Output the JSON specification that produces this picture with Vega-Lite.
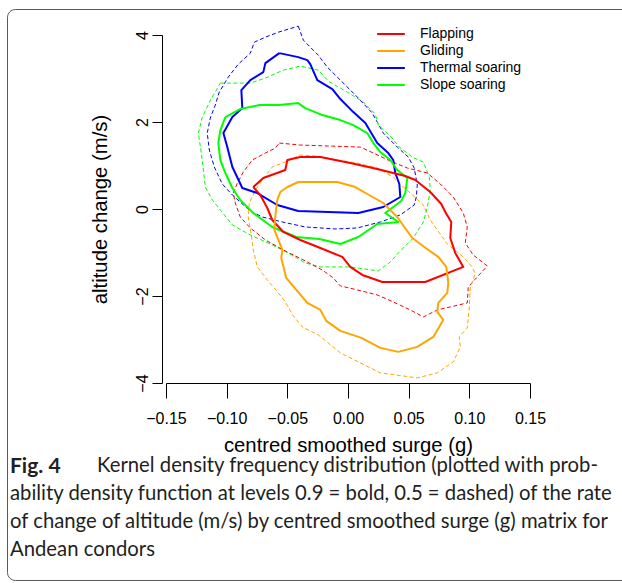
{
  "$schema": "https://vega.github.io/schema/vega-lite/v6.json",
  "width": 364,
  "height": 348,
  "autosize": "none",
  "padding": {"left": 166, "top": 35, "right": 92, "bottom": 200},
  "background": "white",
  "title": {
    "text": "Fig. 4",
    "subtitle": [
      "\u200B\u2003\u2003\u2003\u2003\u2003\u2005\u2009\u2006Kernel density frequency distribution (plotted with prob-",
      "ability density function at levels 0.9 = bold, 0.5 = dashed) of the rate",
      "of change of altitude (m/s) by centred smoothed surge (g) matrix for",
      "Andean condors"
    ],
    "orient": "bottom",
    "anchor": "start",
    "frame": "bounds",
    "offset": -125,
    "dx": 3,
    "font": "Lato",
    "fontSize": 21,
    "fontWeight": "bold",
    "color": "#231f20",
    "subtitleFont": "Lato",
    "subtitleFontSize": 20.3,
    "subtitleFontWeight": "normal",
    "subtitleColor": "#231f20",
    "subtitleLineHeight": 28,
    "subtitlePadding": -21
  },
  "data": {
    "values": [
      {"b":"Thermal soaring","level":0.9,"k":0,"x":-0.0566,"y":3.583},
      {"b":"Thermal soaring","level":0.9,"k":1,"x":-0.0410,"y":3.491},
      {"b":"Thermal soaring","level":0.9,"k":2,"x":-0.0335,"y":3.422},
      {"b":"Thermal soaring","level":0.9,"k":3,"x":-0.0311,"y":3.330},
      {"b":"Thermal soaring","level":0.9,"k":4,"x":-0.0253,"y":2.963},
      {"b":"Thermal soaring","level":0.9,"k":5,"x":-0.0129,"y":2.756},
      {"b":"Thermal soaring","level":0.9,"k":6,"x":-0.0063,"y":2.527},
      {"b":"Thermal soaring","level":0.9,"k":7,"x":0.0044,"y":2.228},
      {"b":"Thermal soaring","level":0.9,"k":8,"x":0.0143,"y":1.975},
      {"b":"Thermal soaring","level":0.9,"k":9,"x":0.0241,"y":1.516},
      {"b":"Thermal soaring","level":0.9,"k":10,"x":0.0332,"y":1.286},
      {"b":"Thermal soaring","level":0.9,"k":11,"x":0.0373,"y":1.126},
      {"b":"Thermal soaring","level":0.9,"k":12,"x":0.0390,"y":0.827},
      {"b":"Thermal soaring","level":0.9,"k":13,"x":0.0423,"y":0.574},
      {"b":"Thermal soaring","level":0.9,"k":14,"x":0.0431,"y":0.276},
      {"b":"Thermal soaring","level":0.9,"k":15,"x":0.0291,"y":0.046},
      {"b":"Thermal soaring","level":0.9,"k":16,"x":0.0085,"y":-0.092},
      {"b":"Thermal soaring","level":0.9,"k":17,"x":-0.0410,"y":-0.046},
      {"b":"Thermal soaring","level":0.9,"k":18,"x":-0.0583,"y":0.092},
      {"b":"Thermal soaring","level":0.9,"k":19,"x":-0.0747,"y":0.367},
      {"b":"Thermal soaring","level":0.9,"k":20,"x":-0.0871,"y":0.482},
      {"b":"Thermal soaring","level":0.9,"k":21,"x":-0.0953,"y":0.965},
      {"b":"Thermal soaring","level":0.9,"k":22,"x":-0.0995,"y":1.424},
      {"b":"Thermal soaring","level":0.9,"k":23,"x":-0.1027,"y":1.746},
      {"b":"Thermal soaring","level":0.9,"k":24,"x":-0.0953,"y":2.113},
      {"b":"Thermal soaring","level":0.9,"k":25,"x":-0.0871,"y":2.320},
      {"b":"Thermal soaring","level":0.9,"k":26,"x":-0.0879,"y":2.733},
      {"b":"Thermal soaring","level":0.9,"k":27,"x":-0.0805,"y":2.963},
      {"b":"Thermal soaring","level":0.9,"k":28,"x":-0.0698,"y":3.147},
      {"b":"Thermal soaring","level":0.9,"k":29,"x":-0.0681,"y":3.353},
      {"b":"Thermal soaring","level":0.9,"k":30,"x":-0.0566,"y":3.583},

      {"b":"Thermal soaring","level":0.5,"k":0,"x":-0.0410,"y":4.203},
      {"b":"Thermal soaring","level":0.5,"k":1,"x":-0.0368,"y":3.882},
      {"b":"Thermal soaring","level":0.5,"k":2,"x":-0.0311,"y":3.721},
      {"b":"Thermal soaring","level":0.5,"k":3,"x":-0.0245,"y":3.537},
      {"b":"Thermal soaring","level":0.5,"k":4,"x":-0.0171,"y":3.262},
      {"b":"Thermal soaring","level":0.5,"k":5,"x":-0.0063,"y":2.963},
      {"b":"Thermal soaring","level":0.5,"k":6,"x":0.0077,"y":2.573},
      {"b":"Thermal soaring","level":0.5,"k":7,"x":0.0200,"y":2.205},
      {"b":"Thermal soaring","level":0.5,"k":8,"x":0.0291,"y":1.746},
      {"b":"Thermal soaring","level":0.5,"k":9,"x":0.0406,"y":1.424},
      {"b":"Thermal soaring","level":0.5,"k":10,"x":0.0497,"y":1.194},
      {"b":"Thermal soaring","level":0.5,"k":11,"x":0.0546,"y":0.942},
      {"b":"Thermal soaring","level":0.5,"k":12,"x":0.0571,"y":0.551},
      {"b":"Thermal soaring","level":0.5,"k":13,"x":0.0563,"y":0.276},
      {"b":"Thermal soaring","level":0.5,"k":14,"x":0.0546,"y":0.092},
      {"b":"Thermal soaring","level":0.5,"k":15,"x":0.0431,"y":-0.138},
      {"b":"Thermal soaring","level":0.5,"k":16,"x":0.0266,"y":-0.299},
      {"b":"Thermal soaring","level":0.5,"k":17,"x":0.0077,"y":-0.436},
      {"b":"Thermal soaring","level":0.5,"k":18,"x":-0.0105,"y":-0.459},
      {"b":"Thermal soaring","level":0.5,"k":19,"x":-0.0352,"y":-0.413},
      {"b":"Thermal soaring","level":0.5,"k":20,"x":-0.0541,"y":-0.299},
      {"b":"Thermal soaring","level":0.5,"k":21,"x":-0.0706,"y":-0.184},
      {"b":"Thermal soaring","level":0.5,"k":22,"x":-0.0805,"y":-0.046},
      {"b":"Thermal soaring","level":0.5,"k":23,"x":-0.0953,"y":0.322},
      {"b":"Thermal soaring","level":0.5,"k":24,"x":-0.1036,"y":0.574},
      {"b":"Thermal soaring","level":0.5,"k":25,"x":-0.1102,"y":0.965},
      {"b":"Thermal soaring","level":0.5,"k":26,"x":-0.1143,"y":1.355},
      {"b":"Thermal soaring","level":0.5,"k":27,"x":-0.1160,"y":1.746},
      {"b":"Thermal soaring","level":0.5,"k":28,"x":-0.1135,"y":2.090},
      {"b":"Thermal soaring","level":0.5,"k":29,"x":-0.1094,"y":2.389},
      {"b":"Thermal soaring","level":0.5,"k":30,"x":-0.1061,"y":2.687},
      {"b":"Thermal soaring","level":0.5,"k":31,"x":-0.0987,"y":3.032},
      {"b":"Thermal soaring","level":0.5,"k":32,"x":-0.0904,"y":3.330},
      {"b":"Thermal soaring","level":0.5,"k":33,"x":-0.0805,"y":3.583},
      {"b":"Thermal soaring","level":0.5,"k":34,"x":-0.0772,"y":3.836},
      {"b":"Thermal soaring","level":0.5,"k":35,"x":-0.0681,"y":3.950},
      {"b":"Thermal soaring","level":0.5,"k":36,"x":-0.0574,"y":4.065},
      {"b":"Thermal soaring","level":0.5,"k":37,"x":-0.0410,"y":4.203},

      {"b":"Slope soaring","level":0.9,"k":0,"x":-0.1011,"y":2.113},
      {"b":"Slope soaring","level":0.9,"k":1,"x":-0.0888,"y":2.297},
      {"b":"Slope soaring","level":0.9,"k":2,"x":-0.0731,"y":2.389},
      {"b":"Slope soaring","level":0.9,"k":3,"x":-0.0566,"y":2.389},
      {"b":"Slope soaring","level":0.9,"k":4,"x":-0.0410,"y":2.435},
      {"b":"Slope soaring","level":0.9,"k":5,"x":-0.0352,"y":2.320},
      {"b":"Slope soaring","level":0.9,"k":6,"x":-0.0212,"y":2.159},
      {"b":"Slope soaring","level":0.9,"k":7,"x":-0.0063,"y":2.044},
      {"b":"Slope soaring","level":0.9,"k":8,"x":0.0044,"y":1.929},
      {"b":"Slope soaring","level":0.9,"k":9,"x":0.0159,"y":1.746},
      {"b":"Slope soaring","level":0.9,"k":10,"x":0.0209,"y":1.516},
      {"b":"Slope soaring","level":0.9,"k":11,"x":0.0266,"y":1.309},
      {"b":"Slope soaring","level":0.9,"k":12,"x":0.0349,"y":1.126},
      {"b":"Slope soaring","level":0.9,"k":13,"x":0.0406,"y":0.896},
      {"b":"Slope soaring","level":0.9,"k":14,"x":0.0489,"y":0.712},
      {"b":"Slope soaring","level":0.9,"k":15,"x":0.0472,"y":0.367},
      {"b":"Slope soaring","level":0.9,"k":16,"x":0.0439,"y":0.184},
      {"b":"Slope soaring","level":0.9,"k":17,"x":0.0307,"y":-0.092},
      {"b":"Slope soaring","level":0.9,"k":18,"x":0.0415,"y":-0.299},
      {"b":"Slope soaring","level":0.9,"k":19,"x":0.0241,"y":-0.345},
      {"b":"Slope soaring","level":0.9,"k":20,"x":0.0085,"y":-0.643},
      {"b":"Slope soaring","level":0.9,"k":21,"x":-0.0063,"y":-0.804},
      {"b":"Slope soaring","level":0.9,"k":22,"x":-0.0236,"y":-0.689},
      {"b":"Slope soaring","level":0.9,"k":23,"x":-0.0426,"y":-0.643},
      {"b":"Slope soaring","level":0.9,"k":24,"x":-0.0624,"y":-0.413},
      {"b":"Slope soaring","level":0.9,"k":25,"x":-0.0781,"y":-0.092},
      {"b":"Slope soaring","level":0.9,"k":26,"x":-0.0888,"y":0.207},
      {"b":"Slope soaring","level":0.9,"k":27,"x":-0.0953,"y":0.482},
      {"b":"Slope soaring","level":0.9,"k":28,"x":-0.1011,"y":0.827},
      {"b":"Slope soaring","level":0.9,"k":29,"x":-0.1052,"y":1.126},
      {"b":"Slope soaring","level":0.9,"k":30,"x":-0.1069,"y":1.516},
      {"b":"Slope soaring","level":0.9,"k":31,"x":-0.1052,"y":1.815},
      {"b":"Slope soaring","level":0.9,"k":32,"x":-0.1011,"y":2.113},

      {"b":"Slope soaring","level":0.5,"k":0,"x":-0.1052,"y":2.894},
      {"b":"Slope soaring","level":0.5,"k":1,"x":-0.0805,"y":2.894},
      {"b":"Slope soaring","level":0.5,"k":2,"x":-0.0681,"y":3.009},
      {"b":"Slope soaring","level":0.5,"k":3,"x":-0.0533,"y":3.193},
      {"b":"Slope soaring","level":0.5,"k":4,"x":-0.0393,"y":3.284},
      {"b":"Slope soaring","level":0.5,"k":5,"x":-0.0245,"y":3.193},
      {"b":"Slope soaring","level":0.5,"k":6,"x":-0.0162,"y":2.940},
      {"b":"Slope soaring","level":0.5,"k":7,"x":-0.0006,"y":2.687},
      {"b":"Slope soaring","level":0.5,"k":8,"x":0.0126,"y":2.458},
      {"b":"Slope soaring","level":0.5,"k":9,"x":0.0225,"y":2.182},
      {"b":"Slope soaring","level":0.5,"k":10,"x":0.0250,"y":1.929},
      {"b":"Slope soaring","level":0.5,"k":11,"x":0.0349,"y":1.677},
      {"b":"Slope soaring","level":0.5,"k":12,"x":0.0423,"y":1.424},
      {"b":"Slope soaring","level":0.5,"k":13,"x":0.0530,"y":1.194},
      {"b":"Slope soaring","level":0.5,"k":14,"x":0.0621,"y":1.079},
      {"b":"Slope soaring","level":0.5,"k":15,"x":0.0670,"y":0.735},
      {"b":"Slope soaring","level":0.5,"k":16,"x":0.0678,"y":0.436},
      {"b":"Slope soaring","level":0.5,"k":17,"x":0.0654,"y":0.046},
      {"b":"Slope soaring","level":0.5,"k":18,"x":0.0621,"y":-0.299},
      {"b":"Slope soaring","level":0.5,"k":19,"x":0.0538,"y":-0.666},
      {"b":"Slope soaring","level":0.5,"k":20,"x":0.0415,"y":-1.011},
      {"b":"Slope soaring","level":0.5,"k":21,"x":0.0349,"y":-1.217},
      {"b":"Slope soaring","level":0.5,"k":22,"x":0.0250,"y":-1.424},
      {"b":"Slope soaring","level":0.5,"k":23,"x":0.0019,"y":-1.332},
      {"b":"Slope soaring","level":0.5,"k":24,"x":-0.0228,"y":-1.332},
      {"b":"Slope soaring","level":0.5,"k":25,"x":-0.0352,"y":-1.240},
      {"b":"Slope soaring","level":0.5,"k":26,"x":-0.0492,"y":-1.011},
      {"b":"Slope soaring","level":0.5,"k":27,"x":-0.0640,"y":-0.804},
      {"b":"Slope soaring","level":0.5,"k":28,"x":-0.0805,"y":-0.597},
      {"b":"Slope soaring","level":0.5,"k":29,"x":-0.0953,"y":-0.367},
      {"b":"Slope soaring","level":0.5,"k":30,"x":-0.1052,"y":-0.023},
      {"b":"Slope soaring","level":0.5,"k":31,"x":-0.1118,"y":0.207},
      {"b":"Slope soaring","level":0.5,"k":32,"x":-0.1176,"y":0.505},
      {"b":"Slope soaring","level":0.5,"k":33,"x":-0.1192,"y":0.896},
      {"b":"Slope soaring","level":0.5,"k":34,"x":-0.1209,"y":1.286},
      {"b":"Slope soaring","level":0.5,"k":35,"x":-0.1233,"y":1.746},
      {"b":"Slope soaring","level":0.5,"k":36,"x":-0.1201,"y":2.113},
      {"b":"Slope soaring","level":0.5,"k":37,"x":-0.1126,"y":2.549},
      {"b":"Slope soaring","level":0.5,"k":38,"x":-0.1094,"y":2.687},
      {"b":"Slope soaring","level":0.5,"k":39,"x":-0.1052,"y":2.894},

      {"b":"Flapping","level":0.9,"k":0,"x":-0.0781,"y":0.505},
      {"b":"Flapping","level":0.9,"k":1,"x":-0.0698,"y":0.712},
      {"b":"Flapping","level":0.9,"k":2,"x":-0.0517,"y":0.896},
      {"b":"Flapping","level":0.9,"k":3,"x":-0.0500,"y":1.126},
      {"b":"Flapping","level":0.9,"k":4,"x":-0.0393,"y":1.194},
      {"b":"Flapping","level":0.9,"k":5,"x":-0.0228,"y":1.194},
      {"b":"Flapping","level":0.9,"k":6,"x":0.0019,"y":1.057},
      {"b":"Flapping","level":0.9,"k":7,"x":0.0241,"y":0.919},
      {"b":"Flapping","level":0.9,"k":8,"x":0.0472,"y":0.758},
      {"b":"Flapping","level":0.9,"k":9,"x":0.0555,"y":0.666},
      {"b":"Flapping","level":0.9,"k":10,"x":0.0678,"y":0.390},
      {"b":"Flapping","level":0.9,"k":11,"x":0.0769,"y":0.115},
      {"b":"Flapping","level":0.9,"k":12,"x":0.0802,"y":-0.069},
      {"b":"Flapping","level":0.9,"k":13,"x":0.0851,"y":-0.299},
      {"b":"Flapping","level":0.9,"k":14,"x":0.0843,"y":-0.666},
      {"b":"Flapping","level":0.9,"k":15,"x":0.0884,"y":-1.011},
      {"b":"Flapping","level":0.9,"k":16,"x":0.0950,"y":-1.332},
      {"b":"Flapping","level":0.9,"k":17,"x":0.0637,"y":-1.677},
      {"b":"Flapping","level":0.9,"k":18,"x":0.0283,"y":-1.677},
      {"b":"Flapping","level":0.9,"k":19,"x":0.0118,"y":-1.516},
      {"b":"Flapping","level":0.9,"k":20,"x":0.0019,"y":-1.332},
      {"b":"Flapping","level":0.9,"k":21,"x":-0.0047,"y":-1.102},
      {"b":"Flapping","level":0.9,"k":22,"x":-0.0228,"y":-0.896},
      {"b":"Flapping","level":0.9,"k":23,"x":-0.0393,"y":-0.712},
      {"b":"Flapping","level":0.9,"k":24,"x":-0.0533,"y":-0.528},
      {"b":"Flapping","level":0.9,"k":25,"x":-0.0624,"y":-0.253},
      {"b":"Flapping","level":0.9,"k":26,"x":-0.0665,"y":0.023},
      {"b":"Flapping","level":0.9,"k":27,"x":-0.0723,"y":0.322},
      {"b":"Flapping","level":0.9,"k":28,"x":-0.0781,"y":0.505},

      {"b":"Flapping","level":0.5,"k":0,"x":-0.0566,"y":1.516},
      {"b":"Flapping","level":0.5,"k":1,"x":-0.0393,"y":1.470},
      {"b":"Flapping","level":0.5,"k":2,"x":0.0101,"y":1.424},
      {"b":"Flapping","level":0.5,"k":3,"x":0.0209,"y":1.286},
      {"b":"Flapping","level":0.5,"k":4,"x":0.0349,"y":1.102},
      {"b":"Flapping","level":0.5,"k":5,"x":0.0489,"y":0.942},
      {"b":"Flapping","level":0.5,"k":6,"x":0.0654,"y":0.827},
      {"b":"Flapping","level":0.5,"k":7,"x":0.0761,"y":0.574},
      {"b":"Flapping","level":0.5,"k":8,"x":0.0868,"y":0.276},
      {"b":"Flapping","level":0.5,"k":9,"x":0.0950,"y":-0.092},
      {"b":"Flapping","level":0.5,"k":10,"x":0.0983,"y":-0.413},
      {"b":"Flapping","level":0.5,"k":11,"x":0.0967,"y":-0.781},
      {"b":"Flapping","level":0.5,"k":12,"x":0.1032,"y":-1.057},
      {"b":"Flapping","level":0.5,"k":13,"x":0.1148,"y":-1.309},
      {"b":"Flapping","level":0.5,"k":14,"x":0.1065,"y":-1.562},
      {"b":"Flapping","level":0.5,"k":15,"x":0.0991,"y":-1.792},
      {"b":"Flapping","level":0.5,"k":16,"x":0.0983,"y":-2.159},
      {"b":"Flapping","level":0.5,"k":17,"x":0.0843,"y":-2.251},
      {"b":"Flapping","level":0.5,"k":18,"x":0.0736,"y":-2.320},
      {"b":"Flapping","level":0.5,"k":19,"x":0.0621,"y":-2.481},
      {"b":"Flapping","level":0.5,"k":20,"x":0.0513,"y":-2.320},
      {"b":"Flapping","level":0.5,"k":21,"x":0.0373,"y":-2.136},
      {"b":"Flapping","level":0.5,"k":22,"x":0.0241,"y":-1.975},
      {"b":"Flapping","level":0.5,"k":23,"x":0.0077,"y":-1.860},
      {"b":"Flapping","level":0.5,"k":24,"x":-0.0063,"y":-1.768},
      {"b":"Flapping","level":0.5,"k":25,"x":-0.0121,"y":-1.585},
      {"b":"Flapping","level":0.5,"k":26,"x":-0.0212,"y":-1.401},
      {"b":"Flapping","level":0.5,"k":27,"x":-0.0368,"y":-1.171},
      {"b":"Flapping","level":0.5,"k":28,"x":-0.0533,"y":-0.942},
      {"b":"Flapping","level":0.5,"k":29,"x":-0.0681,"y":-0.712},
      {"b":"Flapping","level":0.5,"k":30,"x":-0.0805,"y":-0.436},
      {"b":"Flapping","level":0.5,"k":31,"x":-0.0888,"y":-0.184},
      {"b":"Flapping","level":0.5,"k":32,"x":-0.0929,"y":0.138},
      {"b":"Flapping","level":0.5,"k":33,"x":-0.0945,"y":0.367},
      {"b":"Flapping","level":0.5,"k":34,"x":-0.0912,"y":0.597},
      {"b":"Flapping","level":0.5,"k":35,"x":-0.0863,"y":0.850},
      {"b":"Flapping","level":0.5,"k":36,"x":-0.0789,"y":1.126},
      {"b":"Flapping","level":0.5,"k":37,"x":-0.0681,"y":1.286},
      {"b":"Flapping","level":0.5,"k":38,"x":-0.0599,"y":1.401},
      {"b":"Flapping","level":0.5,"k":39,"x":-0.0566,"y":1.516},

      {"b":"Gliding","level":0.9,"k":0,"x":-0.0410,"y":0.620},
      {"b":"Gliding","level":0.9,"k":1,"x":-0.0088,"y":0.620},
      {"b":"Gliding","level":0.9,"k":2,"x":0.0060,"y":0.505},
      {"b":"Gliding","level":0.9,"k":3,"x":0.0159,"y":0.345},
      {"b":"Gliding","level":0.9,"k":4,"x":0.0291,"y":0.138},
      {"b":"Gliding","level":0.9,"k":5,"x":0.0406,"y":-0.184},
      {"b":"Gliding","level":0.9,"k":6,"x":0.0464,"y":-0.413},
      {"b":"Gliding","level":0.9,"k":7,"x":0.0530,"y":-0.666},
      {"b":"Gliding","level":0.9,"k":8,"x":0.0629,"y":-0.873},
      {"b":"Gliding","level":0.9,"k":9,"x":0.0744,"y":-1.102},
      {"b":"Gliding","level":0.9,"k":10,"x":0.0810,"y":-1.332},
      {"b":"Gliding","level":0.9,"k":11,"x":0.0827,"y":-1.700},
      {"b":"Gliding","level":0.9,"k":12,"x":0.0818,"y":-1.929},
      {"b":"Gliding","level":0.9,"k":13,"x":0.0744,"y":-2.159},
      {"b":"Gliding","level":0.9,"k":14,"x":0.0736,"y":-2.366},
      {"b":"Gliding","level":0.9,"k":15,"x":0.0785,"y":-2.550},
      {"b":"Gliding","level":0.9,"k":16,"x":0.0703,"y":-2.940},
      {"b":"Gliding","level":0.9,"k":17,"x":0.0571,"y":-3.170},
      {"b":"Gliding","level":0.9,"k":18,"x":0.0415,"y":-3.284},
      {"b":"Gliding","level":0.9,"k":19,"x":0.0266,"y":-3.193},
      {"b":"Gliding","level":0.9,"k":20,"x":0.0110,"y":-2.963},
      {"b":"Gliding","level":0.9,"k":21,"x":-0.0063,"y":-2.802},
      {"b":"Gliding","level":0.9,"k":22,"x":-0.0179,"y":-2.572},
      {"b":"Gliding","level":0.9,"k":23,"x":-0.0228,"y":-2.320},
      {"b":"Gliding","level":0.9,"k":24,"x":-0.0335,"y":-2.159},
      {"b":"Gliding","level":0.9,"k":25,"x":-0.0426,"y":-1.860},
      {"b":"Gliding","level":0.9,"k":26,"x":-0.0509,"y":-1.585},
      {"b":"Gliding","level":0.9,"k":27,"x":-0.0550,"y":-1.125},
      {"b":"Gliding","level":0.9,"k":28,"x":-0.0541,"y":-0.942},
      {"b":"Gliding","level":0.9,"k":29,"x":-0.0574,"y":-0.712},
      {"b":"Gliding","level":0.9,"k":30,"x":-0.0607,"y":-0.482},
      {"b":"Gliding","level":0.9,"k":31,"x":-0.0599,"y":-0.161},
      {"b":"Gliding","level":0.9,"k":32,"x":-0.0583,"y":0.207},
      {"b":"Gliding","level":0.9,"k":33,"x":-0.0558,"y":0.390},
      {"b":"Gliding","level":0.9,"k":34,"x":-0.0500,"y":0.505},
      {"b":"Gliding","level":0.9,"k":35,"x":-0.0410,"y":0.620},

      {"b":"Gliding","level":0.5,"k":0,"x":-0.0500,"y":1.102},
      {"b":"Gliding","level":0.5,"k":1,"x":-0.0393,"y":1.240},
      {"b":"Gliding","level":0.5,"k":2,"x":-0.0253,"y":1.217},
      {"b":"Gliding","level":0.5,"k":3,"x":-0.0088,"y":1.125},
      {"b":"Gliding","level":0.5,"k":4,"x":0.0077,"y":1.057},
      {"b":"Gliding","level":0.5,"k":5,"x":0.0241,"y":0.942},
      {"b":"Gliding","level":0.5,"k":6,"x":0.0373,"y":0.735},
      {"b":"Gliding","level":0.5,"k":7,"x":0.0456,"y":0.505},
      {"b":"Gliding","level":0.5,"k":8,"x":0.0513,"y":0.367},
      {"b":"Gliding","level":0.5,"k":9,"x":0.0621,"y":0.092},
      {"b":"Gliding","level":0.5,"k":10,"x":0.0678,"y":-0.253},
      {"b":"Gliding","level":0.5,"k":11,"x":0.0736,"y":-0.482},
      {"b":"Gliding","level":0.5,"k":12,"x":0.0818,"y":-0.804},
      {"b":"Gliding","level":0.5,"k":13,"x":0.0950,"y":-1.102},
      {"b":"Gliding","level":0.5,"k":14,"x":0.1024,"y":-1.332},
      {"b":"Gliding","level":0.5,"k":15,"x":0.1049,"y":-1.493},
      {"b":"Gliding","level":0.5,"k":16,"x":0.1008,"y":-1.792},
      {"b":"Gliding","level":0.5,"k":17,"x":0.1000,"y":-2.251},
      {"b":"Gliding","level":0.5,"k":18,"x":0.0983,"y":-2.733},
      {"b":"Gliding","level":0.5,"k":19,"x":0.0917,"y":-2.940},
      {"b":"Gliding","level":0.5,"k":20,"x":0.0926,"y":-3.170},
      {"b":"Gliding","level":0.5,"k":21,"x":0.0868,"y":-3.514},
      {"b":"Gliding","level":0.5,"k":22,"x":0.0736,"y":-3.767},
      {"b":"Gliding","level":0.5,"k":23,"x":0.0571,"y":-3.882},
      {"b":"Gliding","level":0.5,"k":24,"x":0.0266,"y":-3.767},
      {"b":"Gliding","level":0.5,"k":25,"x":0.0101,"y":-3.537},
      {"b":"Gliding","level":0.5,"k":26,"x":-0.0063,"y":-3.307},
      {"b":"Gliding","level":0.5,"k":27,"x":-0.0245,"y":-2.894},
      {"b":"Gliding","level":0.5,"k":28,"x":-0.0377,"y":-2.710},
      {"b":"Gliding","level":0.5,"k":29,"x":-0.0451,"y":-2.458},
      {"b":"Gliding","level":0.5,"k":30,"x":-0.0517,"y":-2.136},
      {"b":"Gliding","level":0.5,"k":31,"x":-0.0574,"y":-1.929},
      {"b":"Gliding","level":0.5,"k":32,"x":-0.0665,"y":-1.631},
      {"b":"Gliding","level":0.5,"k":33,"x":-0.0747,"y":-1.332},
      {"b":"Gliding","level":0.5,"k":34,"x":-0.0781,"y":-0.942},
      {"b":"Gliding","level":0.5,"k":35,"x":-0.0797,"y":-0.597},
      {"b":"Gliding","level":0.5,"k":36,"x":-0.0822,"y":-0.184},
      {"b":"Gliding","level":0.5,"k":37,"x":-0.0813,"y":0.138},
      {"b":"Gliding","level":0.5,"k":38,"x":-0.0764,"y":0.436},
      {"b":"Gliding","level":0.5,"k":39,"x":-0.0706,"y":0.666},
      {"b":"Gliding","level":0.5,"k":40,"x":-0.0624,"y":0.965},
      {"b":"Gliding","level":0.5,"k":41,"x":-0.0500,"y":1.102}
    ]
  },
  "layer": [
    {
      "transform": [{"filter": "datum.level == 0.5"}],
      "mark": {"type": "line", "strokeWidth": 1, "strokeDash": [4, 2.5], "strokeJoin": "round"},
      "encoding": {
        "x": {
          "field": "x", "type": "quantitative",
          "scale": {"domain": [-0.15, 0.15], "nice": false, "zero": false},
          "axis": {
            "values": [-0.15, -0.1, -0.05, 0, 0.05, 0.1, 0.15],
            "format": ".2f",
            "labelFontSize": 16,
            "tickSize": 15,
            "labelPadding": 12,
            "title": "centred smoothed surge (g)",
            "titleFontSize": 20.3,
            "titlePadding": 9
          }
        },
        "y": {
          "field": "y", "type": "quantitative",
          "scale": {"domain": [-4, 4], "nice": false, "zero": false},
          "axis": {
            "values": [-4, -2, 0, 2, 4],
            "format": "d",
            "labelFontSize": 16,
            "labelAngle": -90,
            "labelAlign": "center",
            "labelBaseline": "alphabetic",
            "tickSize": 10,
            "labelPadding": 5,
            "offset": 4,
            "title": "altitude change (m/s)",
            "titleFontSize": 20.3,
            "titlePadding": 24
          }
        },
        "color": {
          "field": "b", "type": "nominal",
          "scale": {"domain": ["Flapping", "Gliding", "Thermal soaring", "Slope soaring"], "range": ["#ff0000", "#ffa500", "#0000ff", "#00ff00"]},
          "legend": {
            "title": null, "orient": "none", "legendX": 215, "legendY": -11,
            "symbolType": "M-1.6,0H1.6", "symbolSize": 300, "symbolStrokeWidth": 2, "symbolDash": [],
            "labelFontSize": 14, "labelFont": "Liberation Sans", "labelColor": "black",
            "labelOffset": 19, "rowPadding": 0, "padding": 0
          }
        },
        "order": {"field": "k", "type": "quantitative"}
      }
    },
    {
      "transform": [{"filter": "datum.level == 0.9"}],
      "mark": {"type": "line", "strokeWidth": 2, "strokeJoin": "round"},
      "encoding": {
        "x": {"field": "x", "type": "quantitative"},
        "y": {"field": "y", "type": "quantitative"},
        "color": {"field": "b", "type": "nominal"},
        "order": {"field": "k", "type": "quantitative"}
      }
    },
    {
      "data": {"values": [{"frame": "figure box"}]},
      "mark": {"type": "rect", "fill": null, "stroke": "#58595b", "strokeWidth": 1, "cornerRadius": 8},
      "encoding": {
        "x": {"datum": -0.28063, "type": "quantitative"},
        "x2": {"datum": 0.32},
        "y": {"datum": 4.5862, "type": "quantitative"},
        "y2": {"datum": -8.54}
      }
    }
  ],
  "config": {
    "view": {"stroke": null},
    "axis": {
      "grid": false,
      "domainColor": "black", "tickColor": "black", "labelColor": "black", "titleColor": "black",
      "labelFont": "Liberation Sans", "titleFont": "Liberation Sans", "titleFontWeight": "normal",
      "domainWidth": 1, "tickWidth": 1, "labelFlush": false, "labelOverlap": false
    }
  }
}
